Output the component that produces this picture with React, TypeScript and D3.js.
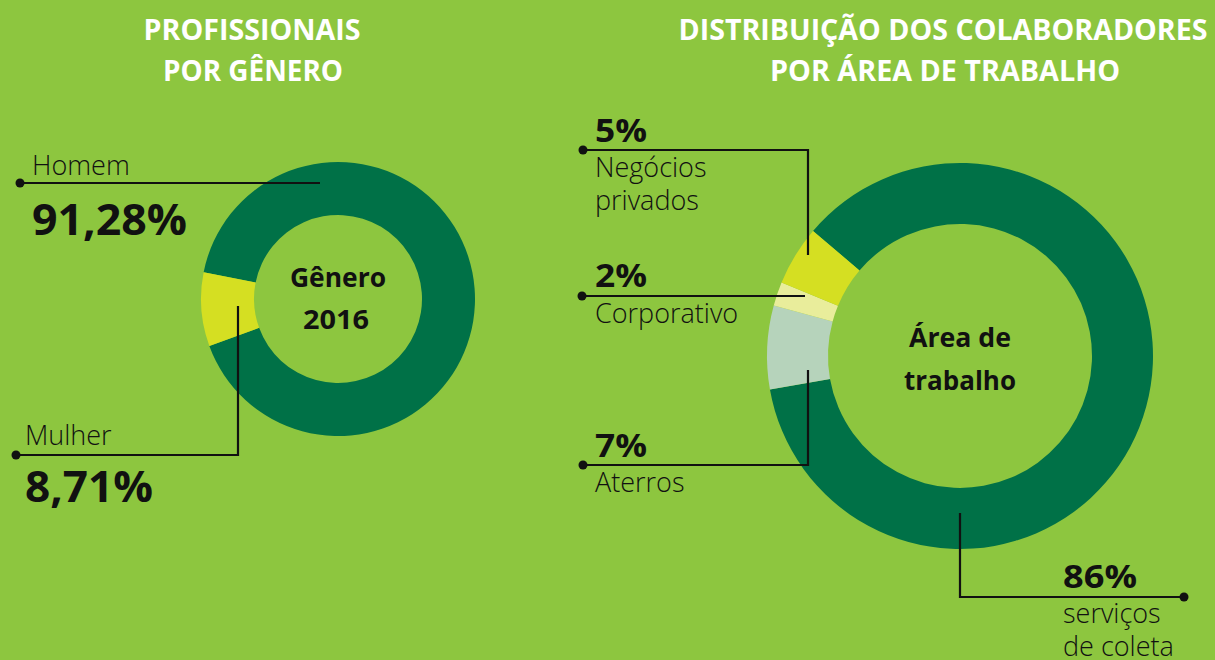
import * as d3 from 'd3';

// Profissionais por gênero
const genderLabels = ['Homem', 'Mulher'];
const genderValues = [91.28, 8.71];
const genderText = ['91,28%', '8,71%'];

// Distribuição por área de trabalho
const areaLabels = [['serviços', 'de coleta'], ['Aterros'], ['Corporativo'], ['Negócios', 'privados']];
const areaValues = [86, 7, 2, 5];
const areaText = ['86%', '7%', '2%', '5%'];

const W = 1215;
const H = 660;
const BG = '#8dc63f';
const FONT = '"Open Sans", "Noto Sans", sans-serif';
const INK = '#111';

const genderColors = ['#007147', '#d5df22'];
const areaColors = ['#007147', '#b6d3bb', '#e9ed9b', '#d5df22'];

const deg = (d: number) => (d * Math.PI) / 180;

const G = { cx: 338, cy: 299, r0: 84, r1: 137, start: -78.7 };
const A = { cx: 960, cy: 356, r0: 132, r1: 193, start: -49.6 };

// leader line layout: polyline points (dot at first point), label positions, value text width
const genderLeaders = [
  { pts: [[20, 183], [320, 183]], labelX: 32, nameY: 175, valY: 235, valW: 155 },
  { pts: [[16, 455], [238, 455], [238, 306]], labelX: 25, nameY: 445, valY: 502, valW: 128 },
];

const areaLeaders = [
  { pts: [[1184, 597], [960, 597], [960, 513]], labelX: 1063, valY: 588, nameY: 623, valW: 74 },
  { pts: [[583, 465], [808, 465], [808, 370]], labelX: 595, valY: 457, nameY: 492, valW: 52 },
  { pts: [[582, 296], [805, 296]], labelX: 595, valY: 287, nameY: 323, valW: 52 },
  { pts: [[583, 150], [808, 150], [808, 255]], labelX: 595, valY: 142, nameY: 177, valW: 52 },
];

function Donut({ values, colors, c }: { values: number[]; colors: string[]; c: typeof G }) {
  const total = d3.sum(values);
  const pie = d3
    .pie<number>()
    .sort(null)
    .value(d => d)
    .startAngle(deg(c.start))
    .endAngle(deg(c.start) + (2 * Math.PI * total) / Math.max(total, 100));
  const arc = d3.arc<d3.PieArcDatum<number>>().innerRadius(c.r0).outerRadius(c.r1);
  return (
    <g transform={`translate(${c.cx},${c.cy})`}>
      {pie(values).map((d, i) => (
        <path key={i} d={arc(d) ?? ''} fill={colors[i]} />
      ))}
    </g>
  );
}

function Leader({ pts }: { pts: number[][] }) {
  const line = d3.line();
  return (
    <g>
      <path d={line(pts as [number, number][]) ?? ''} fill="none" stroke={INK} strokeWidth={2.2} />
      <circle cx={pts[0][0]} cy={pts[0][1]} r={4.5} fill={INK} />
    </g>
  );
}

export default function App() {
  return (
    <svg
      width={W}
      height={H}
      style={{ position: 'absolute', left: 0, top: 0, display: 'block' }}
      fontFamily={FONT}
    >
      <rect width={W} height={H} fill={BG} />

      {/* titles */}
      <g fill="#fff" fontWeight={700} fontSize={28} textAnchor="middle">
        <text x={252} y={40} textLength={217} lengthAdjust="spacingAndGlyphs">PROFISSIONAIS</text>
        <text x={253} y={81} textLength={180} lengthAdjust="spacingAndGlyphs">POR GÊNERO</text>
        <text x={943} y={40} textLength={529} lengthAdjust="spacingAndGlyphs">DISTRIBUIÇÃO DOS COLABORADORES</text>
        <text x={945} y={81} textLength={350} lengthAdjust="spacingAndGlyphs">POR ÁREA DE TRABALHO</text>
      </g>

      {/* left chart */}
      <Donut values={genderValues} colors={genderColors} c={G} />
      <g fill={INK} fontWeight={700} fontSize={26} textAnchor="middle">
        <text x={G.cx} y={287} textLength={96} lengthAdjust="spacingAndGlyphs">Gênero</text>
        <text x={G.cx - 2} y={329} textLength={66} lengthAdjust="spacingAndGlyphs">2016</text>
      </g>
      {genderLeaders.map((l, i) => (
        <g key={i}>
          <Leader pts={l.pts} />
          <text x={l.labelX} y={l.nameY} fontSize={27} fontWeight={300} fill={INK}>{genderLabels[i]}</text>
          <text x={l.labelX} y={l.valY} fontSize={43} fontWeight={700} fill={INK}
            textLength={l.valW} lengthAdjust="spacingAndGlyphs">{genderText[i]}</text>
        </g>
      ))}

      {/* right chart */}
      <Donut values={areaValues} colors={areaColors} c={A} />
      <g fill={INK} fontWeight={700} fontSize={27} textAnchor="middle">
        <text x={A.cx} y={347} textLength={102} lengthAdjust="spacingAndGlyphs">Área de</text>
        <text x={A.cx} y={390} textLength={112} lengthAdjust="spacingAndGlyphs">trabalho</text>
      </g>
      {areaLeaders.map((l, i) => (
        <g key={i}>
          <Leader pts={l.pts} />
          <text x={l.labelX} y={l.valY} fontSize={32} fontWeight={700} fill={INK}
            textLength={l.valW} lengthAdjust="spacingAndGlyphs">{areaText[i]}</text>
          {areaLabels[i].map((s, j) => (
            <text key={j} x={l.labelX} y={l.nameY + j * 33} fontSize={27} fontWeight={300} fill={INK}>{s}</text>
          ))}
        </g>
      ))}
    </svg>
  );
}
